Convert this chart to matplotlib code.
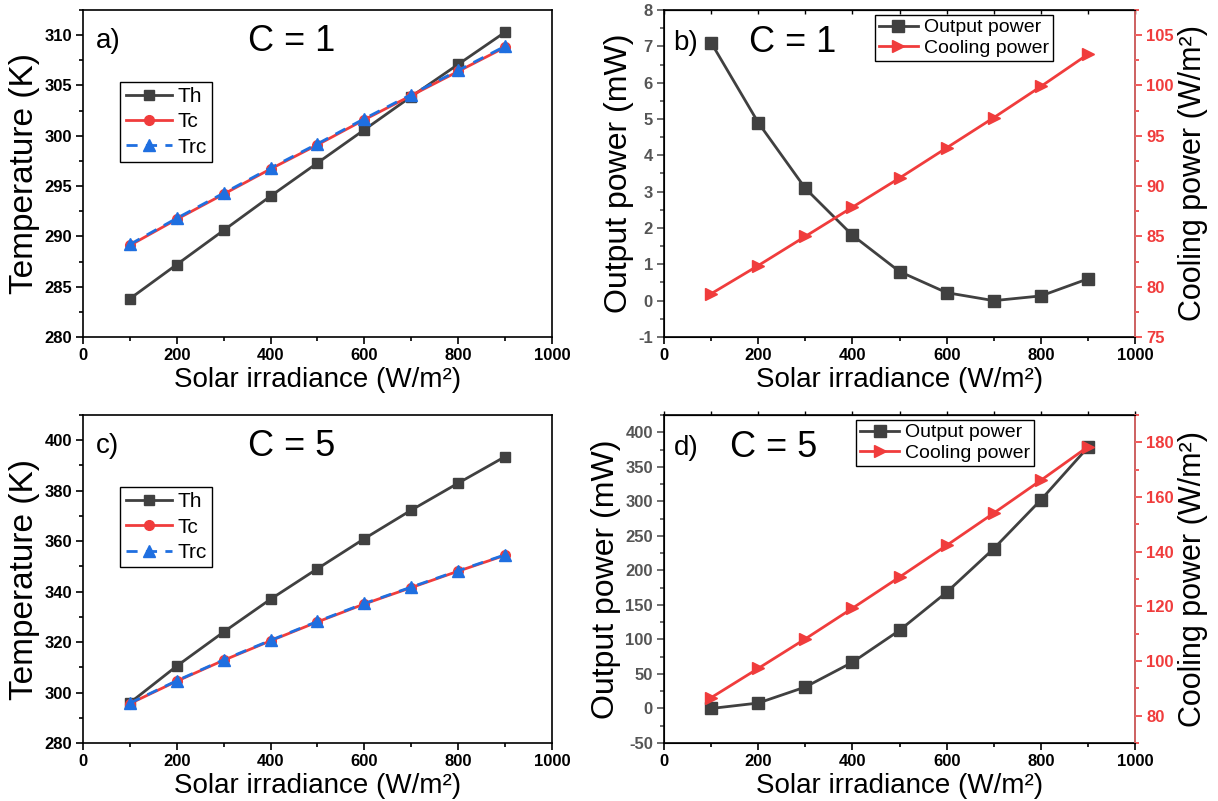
import matplotlib
matplotlib.use("Agg")
import matplotlib.pyplot as plt
from matplotlib.ticker import MultipleLocator

plt.rcParams['font.family'] = ['Liberation Sans', 'DejaVu Sans']
plt.rcParams['axes.unicode_minus'] = False

# irradiance (W/m2)
irr = [100, 200, 300, 400, 500, 600, 700, 800, 900]

# C = 1
th_c1 = [283.8, 287.2, 290.6, 294.0, 297.3, 300.6, 303.9, 307.1, 310.3]
tc_c1 = [289.1, 291.7, 294.2, 296.7, 299.1, 301.6, 304.0, 306.4, 308.8]
trc_c1 = [289.2, 291.8, 294.3, 296.8, 299.2, 301.7, 304.1, 306.5, 308.9]
pout_c1 = [7.1, 4.9, 3.09, 1.8, 0.8, 0.22, 0.0, 0.13, 0.6]
pcool_c1 = [79.3, 82.1, 85.0, 87.9, 90.8, 93.8, 96.8, 99.9, 103.1]

# C = 5
th_c5 = [295.9, 310.5, 324.0, 337.0, 349.1, 361.0, 372.3, 383.0, 393.5]
tc_c5 = [295.6, 304.5, 312.8, 320.5, 328.0, 335.1, 341.6, 348.1, 354.4]
trc_c5 = [295.8, 304.7, 313.0, 320.7, 328.2, 335.3, 341.8, 348.3, 354.6]
pout_c5 = [0.0, 7.9, 31.1, 66.9, 113.2, 168.3, 231.5, 302.0, 378.3]
pcool_c5 = [86.6, 97.3, 108.1, 119.3, 130.7, 142.3, 154.1, 166.1, 178.4]

GRAY = '#404040'
RED = '#f03c3c'
BLUE = '#1f6fe0'
XLAB = 'Solar irradiance (W/m²)'

fig = plt.figure(figsize=(12.18, 8.01), dpi=100)
all_axes = []


def style_x(ax):
    ax.set_xlim(0, 1000)
    ax.xaxis.set_major_locator(MultipleLocator(200))
    ax.xaxis.set_minor_locator(MultipleLocator(100))
    ax.set_xlabel(XLAB, fontsize=20, labelpad=3)
    for s in ax.spines.values():
        s.set_linewidth(1.2)
    ax.tick_params(which='both', direction='out', width=1.2, labelsize=12, pad=3)
    ax.tick_params(which='major', length=5)
    ax.tick_params(which='minor', length=3)


def temp_panel(rect, th, tc, trc, ylim, major, tag, ctext):
    ax = fig.add_axes(rect)
    ax.plot(irr, th, '-s', color=GRAY, lw=2, ms=7, label='Th')
    ax.plot(irr, tc, '-o', color=RED, lw=2, ms=7, label='Tc')
    ax.plot(irr, trc, '--^', color=BLUE, lw=2, ms=8, dashes=(4, 3), label='Trc')
    ax.set_ylim(*ylim)
    ax.yaxis.set_major_locator(MultipleLocator(major))
    ax.yaxis.set_minor_locator(MultipleLocator(major / 2))
    ax.set_ylabel('Temperature (K)', fontsize=24, labelpad=3)
    style_x(ax)
    ax.text(0.028, 0.905, tag, transform=ax.transAxes, fontsize=20, va='center')
    ax.text(0.445, 0.905, ctext, transform=ax.transAxes, fontsize=26,
            va='center', ha='center')
    leg = ax.legend(loc='upper left', bbox_to_anchor=(0.08, 0.78), fontsize=15,
                    frameon=True, fancybox=False, edgecolor='black', framealpha=1,
                    handlelength=2.2, labelspacing=0.3, borderpad=0.25,
                    handletextpad=0.3, borderaxespad=0)
    leg.get_frame().set_linewidth(1.0)
    all_axes.append(ax)


def power_panel(rect, pout, pcool, ylim1, major1, ylim2, major2, tag, ctext, cx, legx, topdir):
    ax = fig.add_axes(rect)
    ax2 = ax.twinx()
    l1, = ax.plot(irr, pout, '-s', color=GRAY, lw=2, ms=8, label='Output power')
    l2, = ax2.plot(irr, pcool, '->', color=RED, lw=2, ms=9, label='Cooling power')
    ax.set_ylim(*ylim1)
    ax.yaxis.set_major_locator(MultipleLocator(major1))
    ax.yaxis.set_minor_locator(MultipleLocator(major1 / 2))
    ax2.set_ylim(*ylim2)
    ax2.yaxis.set_major_locator(MultipleLocator(major2))
    ax2.yaxis.set_minor_locator(MultipleLocator(major2 / 2))
    ax.set_ylabel('Output power (mW)', fontsize=23, labelpad=3)
    ax2.set_ylabel('Cooling power (W/m²)', fontsize=22, labelpad=3)
    style_x(ax)
    ax.tick_params(axis='y', which='both', colors='#555555')
    ax2.spines['right'].set_color('#f07070')
    ax2.spines['right'].set_linewidth(1.2)
    ax2.tick_params(which='both', direction='out', width=1.2, labelsize=12, colors=RED, pad=3)
    ax2.tick_params(which='major', length=5)
    ax2.tick_params(which='minor', length=3)
    top = ax.secondary_xaxis('top')
    top.xaxis.set_major_locator(MultipleLocator(100))
    top.tick_params(direction=topdir, length=3, width=1.0, labeltop=False)
    ax.text(0.02, 0.9, tag, transform=ax.transAxes, fontsize=20, va='center')
    ax.text(cx, 0.9, ctext, transform=ax.transAxes, fontsize=26,
            va='center', ha='center')
    leg = ax.legend([l1, l2], ['Output power', 'Cooling power'], loc='upper left',
                    bbox_to_anchor=(legx, 0.985), fontsize=14,
                    frameon=True, fancybox=False, edgecolor='black', framealpha=1,
                    handlelength=2.0, labelspacing=0.15, borderpad=0.2,
                    handletextpad=0.3, borderaxespad=0)
    leg.get_frame().set_linewidth(1.0)
    all_axes.extend([ax, ax2])


temp_panel([0.0681, 0.5793, 0.3851, 0.4082], th_c1, tc_c1, trc_c1,
           (280, 312.5), 5, 'a)', 'C = 1')
power_panel([0.5452, 0.5793, 0.3867, 0.4082], pout_c1, pcool_c1,
            (-1, 8), 1, (75, 107.5), 5, 'b)', 'C = 1', 0.272, 0.448, 'in')
temp_panel([0.0681, 0.0724, 0.3851, 0.4095], th_c5, tc_c5, trc_c5,
           (280, 410), 20, 'c)', 'C = 5')
power_panel([0.5452, 0.0724, 0.3867, 0.4095], pout_c5, pcool_c5,
            (-50, 425), 50, (70, 190), 20, 'd)', 'C = 5', 0.232, 0.408, 'out')

# tick labels bold (set after a draw so every tick exists)
fig.canvas.draw()
for ax in all_axes:
    for lab in ax.get_xticklabels() + ax.get_yticklabels():
        lab.set_fontweight('bold')

fig.savefig('out.png', dpi=100)
